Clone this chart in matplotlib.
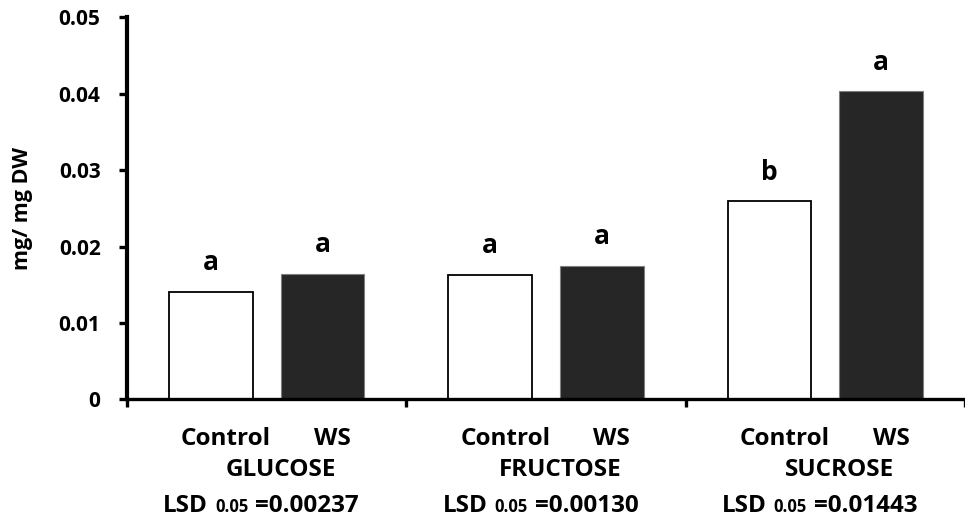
import numpy as np
import matplotlib
matplotlib.use("Agg")
from matplotlib import pyplot as plt
from matplotlib.offsetbox import TextArea, HPacker, AnnotationBbox

plt.rcParams['font.family'] = ['Open Sans', 'DejaVu Sans']
plt.rcParams['font.weight'] = 'bold'

sugars = ['GLUCOSE', 'FRUCTOSE', 'SUCROSE']
control = [0.0141, 0.0163, 0.0259]
ws = [0.0164, 0.0175, 0.0403]
control_letters = ['a', 'a', 'b']
ws_letters = ['a', 'a', 'a']
lsd = ['0.00237', '0.00130', '0.01443']

fig = plt.figure(figsize=(9.65, 5.27), dpi=100)
ax = fig.add_axes([0.1316, 0.2423, 0.8684, 0.7248])

x = np.arange(len(sugars))
ax.bar(x + 0.3, control, width=0.3, color='white', edgecolor='black', linewidth=1.3)
ax.bar(x + 0.7, ws, width=0.3, color='#262626', edgecolor='#7f7f7f', linewidth=0.8)

# letters above bars
for i in range(len(sugars)):
    ax.annotate(control_letters[i], (x[i] + 0.3, control[i]), xytext=(0, 21), textcoords='offset points',
                ha='center', va='center', fontsize=19, fontweight='bold')
    ax.annotate(ws_letters[i], (x[i] + 0.7, ws[i]), xytext=(0, 21), textcoords='offset points',
                ha='center', va='center', fontsize=19, fontweight='bold')

ax.set_ylim(0, 0.05)
ax.set_yticks([0, 0.01, 0.02, 0.03, 0.04, 0.05])
ax.set_yticklabels(['0', '0.01', '0.02', '0.03', '0.04', '0.05'])
ax.set_xlim(0, 2.977)
ax.set_xticks([0, 1, 2, 3])
ax.set_xticklabels([])

for s in ['top', 'right']:
    ax.spines[s].set_visible(False)
ax.spines['left'].set_linewidth(3)
ax.spines['bottom'].set_linewidth(2.4)
ax.tick_params(axis='y', length=6, width=2.4, labelsize=15, pad=13)
ax.tick_params(axis='x', length=6, width=2.4)
ax.set_ylabel('mg/ mg DW', fontsize=15.5, fontweight='bold')
ax.yaxis.set_label_coords(-0.112, 0.5)

trans = ax.get_xaxis_transform()
for i in range(len(sugars)):
    ax.text(x[i] + 0.355, -0.105, 'Control', transform=trans, ha='center', va='center', fontsize=17.5)
    ax.text(x[i] + 0.735, -0.105, 'WS', transform=trans, ha='center', va='center', fontsize=17.5)
    ax.text(x[i] + 0.55, -0.185, sugars[i], transform=trans, ha='center', va='center', fontsize=17.5)
    parts = HPacker(children=[TextArea('LSD', textprops=dict(fontsize=17.5, fontweight='bold')),
                              TextArea('0.05', textprops=dict(fontsize=12, fontweight='bold')),
                              TextArea('=' + lsd[i], textprops=dict(fontsize=17.5, fontweight='bold'))],
                    align='baseline', pad=0, sep=5)
    ab = AnnotationBbox(parts, (x[i] + 0.48, -0.28), xycoords=trans, frameon=False,
                        box_alignment=(0.5, 0.5), annotation_clip=False)
    ax.add_artist(ab)

fig.savefig('out.png', dpi=100)
